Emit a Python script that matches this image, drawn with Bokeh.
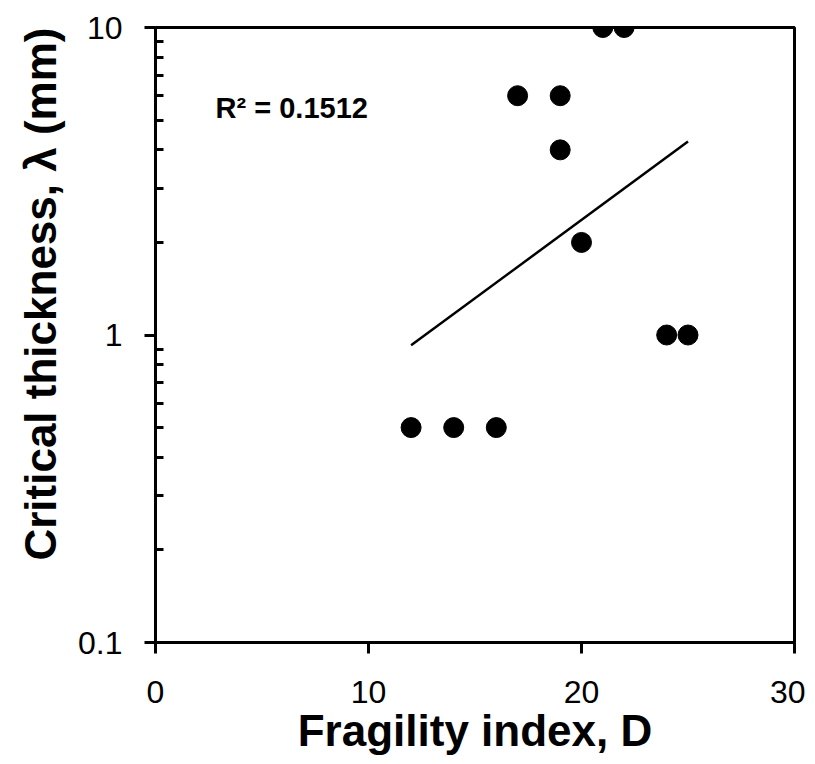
import numpy as np
from bokeh.plotting import figure
from bokeh.models import FixedTicker, CustomJSTickFormatter, Label, Range1d, Title
from bokeh.embed import file_html
from bokeh.resources import INLINE

# data
fragility = [12, 14, 16, 17, 19, 19, 20, 21, 22, 24, 25]
thickness = [0.5, 0.5, 0.5, 6, 6, 4, 2, 10, 10, 1, 1]
x_ticks = [0, 10, 20, 30]
y_ticks = [0.1, 1, 10]
r2_text = "R\u00b2 = 0.1512"
x_title = "Fragility index, D"
y_title = "Critical thickness, \u03bb (mm)"

FONT = "Liberation Sans"

p = figure(width=805, height=760, y_axis_type="log",
           x_range=Range1d(0, 30), y_range=Range1d(0.1, 10),
           output_backend="svg", toolbar_location=None,
           min_border_left=155, min_border_right=11,
           min_border_top=27, min_border_bottom=118)
p.grid.visible = False
p.background_fill_color = "white"
p.border_fill_color = "white"
p.outline_line_color = "black"
p.outline_line_width = 3

# exponential trendline (least squares on log values)
b, a = np.polyfit(np.array(fragility, float), np.log(thickness), 1)
xs = np.array([min(fragility), max(fragility)], float)
p.line(xs, np.exp(a + b * xs), line_color="black", line_width=2.5)

p.scatter(fragility, thickness, size=20, color="black")

# axes
xa = p.xaxis[0]
xa.ticker = FixedTicker(ticks=x_ticks)
xa.axis_label = x_title
ya = p.yaxis[0]
ya.ticker = FixedTicker(ticks=y_ticks,
                        minor_ticks=[m * 10.0 ** e for e in (-1, 0) for m in range(2, 10)])
ya.formatter = CustomJSTickFormatter(code="return tick.toString()")

for ax in (xa, ya):
    ax.axis_line_width = 3
    ax.axis_line_color = "black"
    ax.major_tick_line_width = 3
    ax.minor_tick_line_width = 3
    ax.major_tick_out = 11
    ax.major_tick_in = 0
    ax.major_label_text_font = FONT
    ax.major_label_text_font_size = "32px"
    ax.major_label_text_color = "black"
    ax.axis_label_text_font = FONT
    ax.axis_label_text_font_size = "44px"
    ax.axis_label_text_font_style = "bold"
    ax.axis_label_text_color = "black"

xa.minor_tick_in = 0
xa.minor_tick_out = 0
xa.major_label_standoff = 27
xa.axis_label_standoff = 0
ya.minor_tick_in = 8
ya.minor_tick_out = 0
ya.major_label_standoff = 22

# y title as a side title, aligned to the top of the frame
p.add_layout(Title(text=y_title, align="right", offset=0, standoff=22,
                   text_font=FONT, text_font_size="44px", text_font_style="bold",
                   text_color="black"), "left")

# R^2 annotation
p.add_layout(Label(x=2.82, y=5.49, text=r2_text,
                   text_font=FONT, text_font_size="29px", text_font_style="bold",
                   text_align="left", text_baseline="alphabetic", text_color="black"))

open("out.html", "w").write(file_html(p, INLINE))
